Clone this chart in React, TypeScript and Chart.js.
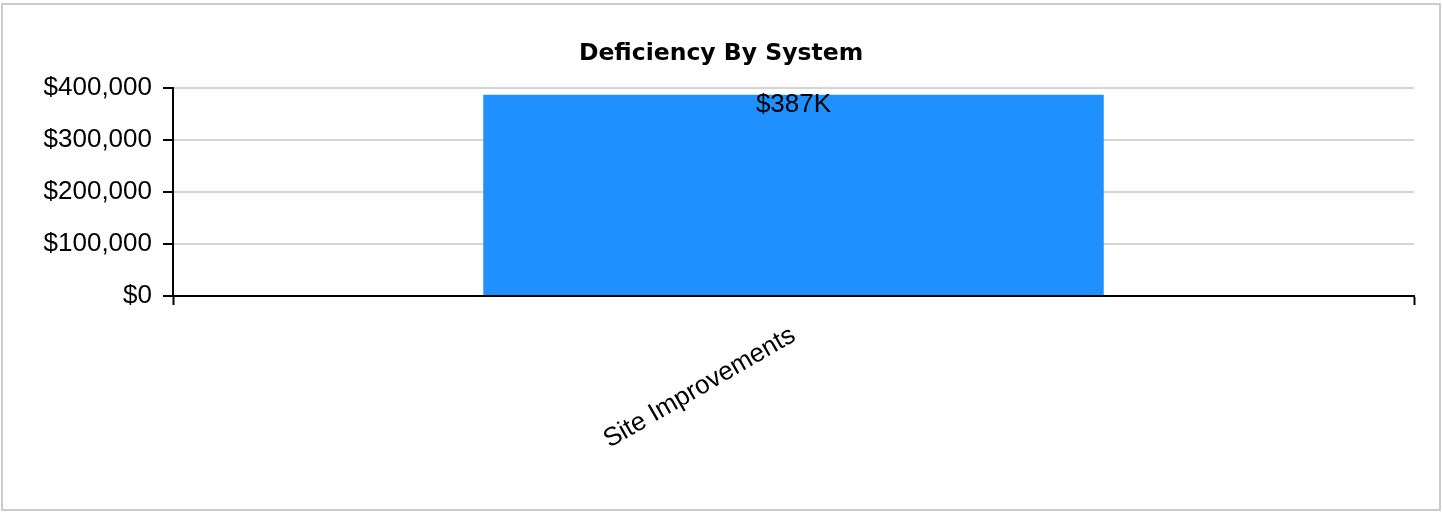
import React, { useEffect, useRef } from "react";
import { Chart, registerables } from "chart.js";

Chart.register(...registerables);

const chartTitle = "Deficiency By System";
const categories = ["Site Improvements"];
const values = [387000];
const valueLabels = ["$387K"];
const yMin = 0;
const yMax = 400000;
const yStep = 100000;

const TICK_FONT = "'Liberation Sans', Arial, sans-serif";

const valueLabelPlugin = {
  id: "valueLabels",
  afterDatasetsDraw(chart: any) {
    const ctx = chart.ctx;
    const meta = chart.getDatasetMeta(0);
    ctx.save();
    ctx.fillStyle = "#000";
    ctx.font = `26px ${TICK_FONT}`;
    ctx.textAlign = "center";
    ctx.textBaseline = "middle";
    meta.data.forEach((bar: any, i: number) => {
      ctx.fillText(valueLabels[i], bar.x, bar.y + 10);
    });
    ctx.restore();
  },
};

export default function App() {
  const canvasRef = useRef<HTMLCanvasElement | null>(null);

  useEffect(() => {
    if (!canvasRef.current) return;
    const chart = new Chart(canvasRef.current, {
      type: "bar",
      data: {
        labels: categories,
        datasets: [
          {
            data: values,
            backgroundColor: "#1E90FF",
            borderWidth: 0,
            categoryPercentage: 1,
            barPercentage: 0.5,
            yAxisID: "y",
          },
        ],
      },
      plugins: [valueLabelPlugin],
      options: {
        animation: false,
        responsive: true,
        maintainAspectRatio: false,
        devicePixelRatio: 1,
        layout: { padding: { top: 40, left: 14, right: 14, bottom: 0 } },
        plugins: {
          legend: { display: false },
          tooltip: { enabled: false },
          title: {
            display: true,
            text: chartTitle,
            color: "#000",
            font: { family: "'DejaVu Sans', Verdana, sans-serif", size: 23.5, weight: "bold", lineHeight: 1.2 },
            padding: { top: 0, bottom: 19.8 },
          },
        },
        scales: {
          x: {
            afterFit(scale: any) {
              scale.height = 216;
            },
            grid: {
              drawOnChartArea: false,
              drawTicks: true,
              tickLength: 9,
              tickColor: "#000",
              tickWidth: 2,
              color: "#000",
            },
            border: { display: true, color: "#000", width: 2 },
            ticks: {
              color: "#000",
              font: { family: TICK_FONT, size: 26 },
              maxRotation: 30,
              minRotation: 30,
              padding: 15,
            },
          },
          y: {
            min: yMin,
            max: yMax,
            afterFit(scale: any) {
              scale.width = 159;
            },
            grid: {
              color: "#d4d4d4",
              lineWidth: 2,
              tickLength: 10,
              tickColor: "#000",
              tickWidth: 2,
            },
            border: { display: true, color: "#000", width: 2 },
            ticks: {
              stepSize: yStep,
              color: "#000",
              padding: 11,
              font: { family: TICK_FONT, size: 26 },
              callback: (v: any) => "$" + Number(v).toLocaleString("en-US"),
            },
          },
          ySpacer: {
            type: "linear",
            position: "right",
            display: true,
            afterFit(scale: any) {
              scale.width = 14;
            },
            grid: { display: false, drawOnChartArea: false },
            border: { display: false },
            ticks: { display: false },
          },
        },
      },
    });
    return () => chart.destroy();
  }, []);

  return (
    <div style={{ position: "absolute", left: 0, top: 0, width: 1442, height: 512, background: "#fff" }}>
      <div
        style={{
          position: "absolute",
          left: 1,
          top: 3,
          width: 1440,
          height: 508,
          border: "2px solid #cccccc",
          boxSizing: "border-box",
        }}
      />
      <div style={{ position: "absolute", left: 0, top: 0, width: 1442, height: 512 }}>
        <canvas ref={canvasRef} />
      </div>
    </div>
  );
}
